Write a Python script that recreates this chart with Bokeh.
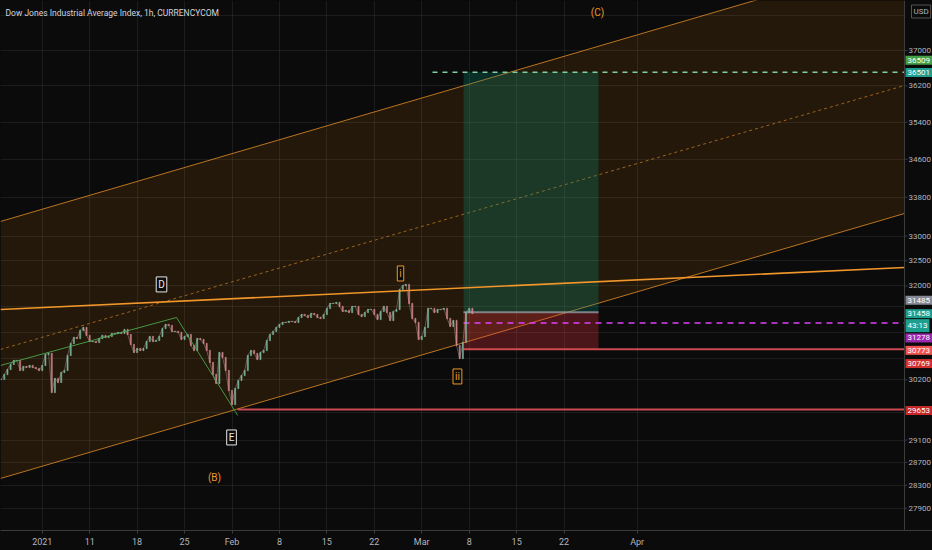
from bokeh.plotting import figure
from bokeh.models import Range1d, FixedTicker, Label
from bokeh.core.properties import value
from bokeh.embed import file_html
from bokeh.resources import INLINE
from jinja2 import Template

# ---------------- data ----------------
title_text = "Dow Jones Industrial Average Index, 1h, CURRENCYCOM"

# x axis: trading-day index counted from 4 Jan 2021
x_tick_days = [0, 5, 10, 15, 20, 25, 30, 35, 40, 45, 50, 55, 62.7]
x_tick_labels = ["2021", "11", "18", "25", "Feb", "8", "15", "22", "Mar", "8", "15", "22", "Apr"]

# price scale (log)
y_label_levels = [37000, 36200, 35400, 34600, 33800, 33000, 32500, 32000,
                  30200, 29100, 28700, 28300, 27900]
y_label_texts = ["37000", "36200", "35400", "34600", "33800", "33000", "32500", "32000",
                 "30200", "29100", "28700", "28300", "27900"]
y_grid_levels = [37800, 37000, 36200, 35400, 34600, 33800, 33000, 32500, 32000,
                 31600, 31100, 30600, 30200, 29600, 29100, 28700, 28300, 27900]

view_days = [-4.40, 93.83]      # whole frame, price scale strip included
scale_day = 90.88               # where the price scale begins
view_prices = [27521, 38158]

# 8-hour closes
bar_first_day = -4.333
bar_step_days = 1 / 3
closes = [
    30208, 30300, 30394, 30488, 30563, 30563, 30375, 30450, 30431, 30469,
    30431, 30413, 30375, 30469, 30677, 30696, 29966, 30226, 30152, 30338,
    30375, 30658, 30885, 30999, 30980, 31134, 31192, 31038, 30923, 30923,
    30904, 30980, 31038, 30999, 31019, 31076, 31076, 31096, 31076, 31153,
    31057, 30866, 30714, 30790, 30752, 30790, 30923, 31019, 30923, 30942,
    31019, 31172, 31249, 31230, 31115, 31115, 31096, 30961, 31019, 31057,
    30847, 30752, 30980, 30961, 30885, 30752, 30525, 30300, 30133, 30714,
    30620, 30375, 30003, 29745, 30040, 30189, 30282, 30375, 30658, 30752,
    30696, 30582, 30714, 30752, 30942, 31057, 31115, 31192, 31249, 31288,
    31288, 31307, 31307, 31288, 31384, 31442, 31423, 31384, 31462, 31442,
    31384, 31365, 31442, 31559, 31656, 31656, 31676, 31598, 31501, 31520,
    31481, 31598, 31598, 31442, 31404, 31481, 31539, 31539, 31442, 31345,
    31501, 31598, 31481, 31326, 31501, 31539, 31931, 32010, 32030, 31656,
    31365, 31288, 30961, 31019, 31192, 31559, 31559, 31481, 31539, 31539,
    31559, 31365, 31211, 31326, 30847, 30601, 30904, 31481, 31559, 31458,
]

channel_days = [-4.40, 90.88]
channel_upper = [33298, 39205]
channel_middle = [30771, 36210]
channel_lower = [28418, 33462]

trend_days = [-4.40, 90.88]
trend_prices = [31539, 32367]

wave_days = [-4.40, 14.15, 20.6]
wave_prices = [30469, 31384, 29545]

pos_days = [44.40, 58.63]
pos_entry = 31485
pos_target = 36509
pos_stop = 30773
target_line_day = 41.13
alert_price = 31278
support_day = 20.58
support_price = 29653

wave_label_texts = ["D", "E", "i", "ii", "(B)", "(C)"]
wave_label_days = [12.57, 19.95, 37.76, 43.76, 18.15, 58.52]
wave_label_prices = [32030, 29146, 32247, 30263, 28436, 37877]

tag_texts = ["36509", "36501", "31485", "31458", "43:13", "31278", "30773", "30769", "29653"]
tag_prices = [36509, 36501, 31485, 31458, 31458, 31278, 30773, 30769, 29653]

# ---------------- styles ----------------
BG = "#0b0b0b"
ORANGE = "#f0962a"
TXT = "#b2b5be"
AXIS = "#3c3c3c"
FONT = "Roboto"
W, H = 932, 550
tag_shift_px = [12, 0, 12, 0, -12, -15, -1, -14, -1]
tag_colors = ["#43a047", "#1e9e8f", "#868993", "#1e9e8f", "#1e9e8f",
              "#9c27b0", "#ef5350", "#d32f2f", "#c62828"]
wave_label_colors = ["#e8e8e8", "#e8e8e8", ORANGE, ORANGE, ORANGE, ORANGE]
wave_label_boxed = [True, True, True, True, False, False]

p = figure(width=W, height=H,
           x_range=Range1d(*view_days), y_range=Range1d(*view_prices),
           y_axis_type="log", y_axis_location=None,
           output_backend="svg", toolbar_location=None,
           background_fill_color=BG, border_fill_color=BG,
           outline_line_color=None, min_border=0, min_border_bottom=20)

# time axis
p.xaxis.ticker = FixedTicker(ticks=x_tick_days)
p.xaxis.major_label_overrides = dict(zip(x_tick_days, x_tick_labels))
p.xaxis.axis_line_color = AXIS
p.xaxis.major_tick_line_color = AXIS
p.xaxis.major_tick_in = 0
p.xaxis.major_tick_out = 3
p.xaxis.minor_tick_line_color = None
p.xaxis.major_label_text_color = TXT
p.xaxis.major_label_text_font = FONT
p.xaxis.major_label_text_font_size = "9px"
p.xaxis.major_label_standoff = 3
p.ygrid.ticker = FixedTicker(ticks=y_grid_levels)
for g in (p.xgrid, p.ygrid):
    g.grid_line_color = "#ffffff"
    g.grid_line_alpha = 0.07

# channel
p.patch(channel_days + channel_days[::-1], channel_upper + channel_lower[::-1],
        fill_color="#ff9800", fill_alpha=0.1, line_color=None)
p.line(channel_days, channel_upper, line_color=ORANGE, line_width=1, line_alpha=0.75)
p.line(channel_days, channel_lower, line_color=ORANGE, line_width=1, line_alpha=0.75)
p.line(channel_days, channel_middle, line_color=ORANGE, line_width=1, line_alpha=0.6,
       line_dash="3 3")

# position tool
p.quad(left=[pos_days[0]], right=[pos_days[1]], bottom=[pos_entry], top=[pos_target],
       fill_color="#089981", fill_alpha=0.25, line_color=None)
p.quad(left=[pos_days[0]], right=[pos_days[1]], bottom=[pos_stop], top=[pos_entry],
       fill_color="#f23645", fill_alpha=0.28, line_color=None)
p.line(pos_days, [pos_entry, pos_entry], line_color="#9598a1", line_width=2, line_alpha=0.8)

# horizontal levels
p.line([target_line_day, scale_day], [pos_target, pos_target], line_color="#7fcf9f",
       line_width=1.5, line_dash="5 5")
p.line([pos_days[0], scale_day], [alert_price, alert_price], line_color="#e040fb",
       line_width=1.5, line_dash="6 5")
p.line([pos_days[0], scale_day], [pos_stop, pos_stop], line_color="#e0505a",
       line_width=2, line_alpha=0.9)
p.line([support_day, scale_day], [support_price, support_price], line_color="#e0505a",
       line_width=2, line_alpha=0.9)

# candles
days = [bar_first_day + i * bar_step_days for i in range(len(closes))]
opens = [closes[0]] + closes[:-1]
tops = [max(o, c) + 4 for o, c in zip(opens, closes)]
bottoms = [min(o, c) - 4 for o, c in zip(opens, closes)]
colors = ["#7fbfa6" if c >= o else "#d98a93" for o, c in zip(opens, closes)]
p.line(days, closes, line_color="#c9a9ae", line_width=0.8, line_alpha=0.5)
p.vbar(x=days, width=0.12, top=tops, bottom=bottoms, fill_color=colors,
       line_color=colors, line_width=0.6, fill_alpha=0.85, line_alpha=0.85)

# trend lines
p.line(wave_days, wave_prices, line_color="#4caf50", line_width=1, line_alpha=0.85)
p.line(trend_days, trend_prices, line_color=ORANGE, line_width=1.6)

# price scale strip on the right
p.quad(left=[scale_day], right=[view_days[1] + 1], bottom=[view_prices[0]],
       top=[view_prices[1] * 1.01], fill_color=BG, line_color=None)
p.line([scale_day, scale_day], view_prices, line_color=AXIS, line_width=1)
p.segment(x0=[scale_day] * len(y_label_levels), y0=y_label_levels,
          x1=[scale_day + 0.3] * len(y_label_levels), y1=y_label_levels,
          line_color=AXIS, line_width=1)
p.text(x=[scale_day] * len(y_label_levels), y=y_label_levels, text=y_label_texts,
       x_offset=4, text_baseline="middle", text_align="left", text_color=TXT,
       text_font=value(FONT), text_font_size="8px")

# wave labels
for t, d, pr, col, boxed in zip(wave_label_texts, wave_label_days, wave_label_prices,
                                wave_label_colors, wave_label_boxed):
    kw = dict(x=d, y=pr, text=t, text_align="center", text_baseline="middle",
              text_color=col, text_font=FONT, text_font_size="10px")
    if boxed:
        kw.update(background_fill_color=BG, background_fill_alpha=0.9,
                  border_line_color=col, border_line_width=1, padding=2)
    p.add_layout(Label(**kw))

# title
p.add_layout(Label(x=view_days[0], y=view_prices[1], x_offset=5, y_offset=-12,
                   text=title_text, text_baseline="middle", text_color="#d1d4dc",
                   text_font=FONT, text_font_size="8.5px"))

# price tags on the scale
for t, pr, sh, col in zip(tag_texts, tag_prices, tag_shift_px, tag_colors):
    p.add_layout(Label(x=scale_day, y=pr, x_offset=1, y_offset=sh, text=t,
                       text_align="left", text_baseline="middle", text_color="#ffffff",
                       text_font=FONT, text_font_size="8px",
                       background_fill_color=col, padding=2))
p.add_layout(Label(x=scale_day, y=view_prices[1], x_offset=7, y_offset=-11,
                   text="USD", text_align="left", text_baseline="middle", text_color=TXT,
                   text_font=FONT, text_font_size="8px", background_fill_color=BG,
                   border_line_color="#555555", padding=2))

page_template = Template("""{% extends base %}
{% block preamble %}<style>html, body { background: #0b0b0b; }</style>{% endblock %}""")

open("out.html", "w").write(file_html(p, INLINE, title="DJI", template=page_template))
